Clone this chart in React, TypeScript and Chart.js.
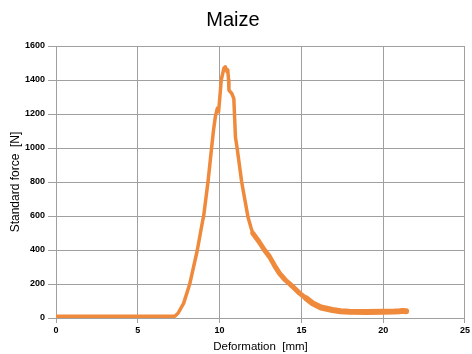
import React, { useEffect, useRef } from "react";
import { Chart, registerables } from "chart.js";

Chart.register(...registerables);

const titleText = "Maize";
const xAxisTitle = "Deformation  [mm]";
const yAxisTitle = "Standard force  [N]";

const deformationMm = [
  0, 1, 2, 3, 4, 5, 6, 7, 7.26, 7.46, 7.8, 8.17, 8.64, 8.88, 8.98, 9.02, 9.29, 9.51, 9.63,
  9.74, 9.86, 9.94, 10.0, 10.1, 10.26, 10.35, 10.45, 10.5, 10.55, 10.57, 10.75, 10.87, 10.91,
  10.97, 11.07, 11.35, 11.73, 11.93, 12.03, 12.4, 12.74, 13.05, 13.35, 13.66, 14.0, 14.47,
  14.9, 15.3, 15.69, 16.2, 16.9, 17.4, 17.93, 19.0, 19.96, 20.7, 21.0, 21.2, 21.4,
];
const forceN = [
  10, 10, 10, 10, 10, 10, 10, 10, 10, 28, 86, 198, 400, 528, 580, 596, 800, 1000, 1106,
  1184, 1233, 1214, 1282, 1400, 1469, 1478, 1449, 1460, 1400, 1341, 1320, 1290, 1200,
  1063, 1000, 800, 596, 528, 498, 450, 400, 361, 310, 263, 225, 184,
  145, 115, 86, 62, 47, 40, 37, 36, 37, 38, 40, 42, 40,
];

const xTicks = [0, 5, 10, 15, 20, 25];
const yTicks = [0, 200, 400, 600, 800, 1000, 1200, 1400, 1600];

export default function App() {
  const ref = useRef<HTMLCanvasElement>(null);

  useEffect(() => {
    if (!ref.current) return;
    const grid = "#a0a0a0";
    const font = "'Liberation Sans', Arial, sans-serif";
    const chart = new Chart(ref.current, {
      type: "line",
      data: {
        datasets: [
          {
            data: deformationMm.map((x, i) => ({ x, y: forceN[i] })),
            borderColor: "#ef8a3d",
            borderWidth: 3.5,
            borderCapStyle: "round",
            borderJoinStyle: "round",
            pointRadius: 0,
            tension: 0,
            segment: {
              borderWidth: (ctx: any) =>
                ctx.p0.parsed.x >= 15 ? 6 : ctx.p0.parsed.x >= 12 ? 5 : 3.5,
            },
          },
        ],
      },
      options: {
        animation: false,
        responsive: true,
        maintainAspectRatio: false,
        layout: { padding: { left: 0, right: 6, top: 0, bottom: 0 } },
        plugins: {
          legend: { display: false },
          tooltip: { enabled: false },
          title: {
            display: true,
            text: titleText,
            color: "#000",
            font: { family: font, size: 20, weight: "normal" },
            padding: { top: 8, bottom: 14 },
          },
        },
        scales: {
          x: {
            type: "linear",
            min: 0,
            max: 25,
            afterBuildTicks: (s: any) => {
              s.ticks = xTicks.map((v) => ({ value: v }));
            },
            afterFit: (s: any) => {
              s.height = 36;
            },
            ticks: {
              color: "#000",
              padding: 2,
              maxRotation: 0,
              callback: (v: any) => String(v),
              font: { family: font, size: 9, weight: "bold" },
            },
            grid: { color: grid, tickColor: grid, tickLength: 5, lineWidth: 1 },
            border: { display: true, color: grid },
            title: {
              display: true,
              text: xAxisTitle,
              color: "#000",
              font: { family: font, size: 11.5 },
              padding: { top: 0, bottom: 0.5 },
            },
          },
          y: {
            type: "linear",
            min: 0,
            max: 1600,
            afterBuildTicks: (s: any) => {
              s.ticks = yTicks.map((v) => ({ value: v }));
            },
            afterFit: (s: any) => {
              s.width = 56;
            },
            ticks: {
              color: "#000",
              padding: 3,
              callback: (v: any) => String(v),
              font: { family: font, size: 9, weight: "bold" },
            },
            grid: { color: grid, tickColor: grid, tickLength: 8, lineWidth: 1 },
            border: { display: true, color: grid },
            title: {
              display: true,
              text: yAxisTitle,
              color: "#000",
              font: { family: font, size: 12 },
              padding: { top: 8, bottom: 0 },
            },
          },
        },
      },
    } as any);
    return () => chart.destroy();
  }, []);

  return (
    <div style={{ position: "fixed", left: 0, top: 0, width: 472, height: 354, background: "#fff" }}>
      <canvas ref={ref} />
    </div>
  );
}
